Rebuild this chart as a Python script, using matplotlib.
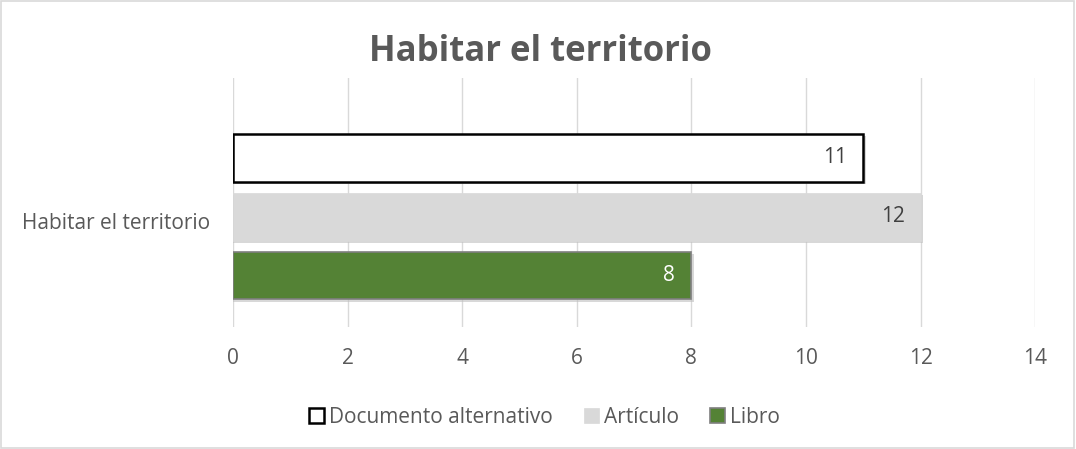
import matplotlib.pyplot as plt
from matplotlib.patches import Rectangle

category = "Habitar el territorio"
series = ["Documento alternativo", "Artículo", "Libro"]
values = [11, 12, 8]
ticks = [0, 2, 4, 6, 8, 10, 12, 14]

plt.rcParams['font.family'] = ['Open Sans', 'DejaVu Sans']

fig = plt.figure(figsize=(10.76, 4.49), dpi=100)
fig.patches.append(Rectangle((0.001, 0.002), 0.997, 0.995, transform=fig.transFigure,
                             fill=False, edgecolor='#D9D9D9', linewidth=1.2))
ax = fig.add_axes([0.2165, 0.272, 0.7455, 0.554])

pos = [1, 0, -1]
faces = ['white', '#D9D9D9', '#548235']
edges = ['black', '#D9D9D9', '#7F7F7F']
lws = [1.8, 0.5, 1.2]
txt = ['#404040', '#404040', 'white']
h = 0.81

for y, v, fc, ec, lw, tc, name in zip(pos, values, faces, edges, lws, txt, series):
    # soft shadow
    ax.barh(y - 0.04, v + 0.04, height=h, color='#BFBFBF', alpha=0.6, zorder=2)
    ax.barh(y, v, height=h, color=fc, edgecolor=ec, linewidth=lw, zorder=3, label=name)
    ax.text(v - 0.28, y, str(v), ha='right', va='center', color=tc, fontsize=15, zorder=4)

ax.set_xlim(0, 14)
ax.set_ylim(-1.87, 2.35)
ax.set_xticks(ticks)
ax.set_yticks([-0.08])
ax.set_yticklabels([category])
ax.grid(axis='x', color='#D9D9D9', linewidth=1, zorder=0)
for s in ax.spines.values():
    s.set_visible(False)
ax.tick_params(length=0, labelsize=15, labelcolor='#595959')
ax.tick_params(axis='x', pad=15.5)
ax.tick_params(axis='y', pad=16.5)

fig.text(0.502, 0.864, "Habitar el territorio", ha='center', va='baseline',
         fontsize=25, fontweight='bold', color='#595959')

leg = fig.legend(loc='center', bbox_to_anchor=(0.506, 0.07), ncol=3, frameon=False,
                 fontsize=15, handlelength=0.7, handleheight=0.7, handletextpad=0.25,
                 columnspacing=1.5, labelcolor='#595959')

fig.savefig('out.png', dpi=100)
